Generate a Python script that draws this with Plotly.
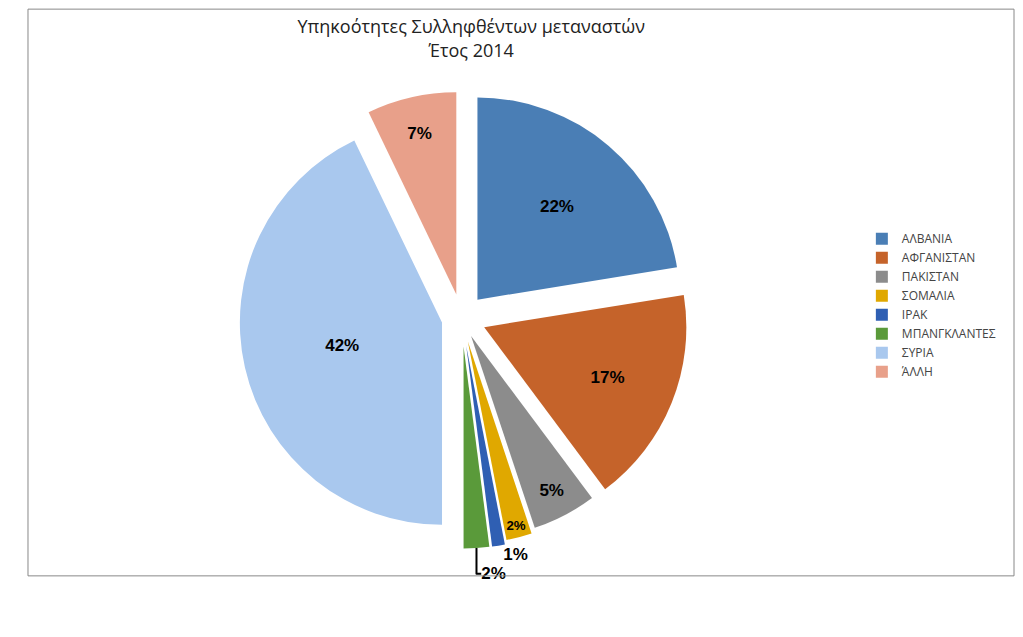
import plotly.graph_objects as go

labels = ["ΑΛΒΑΝΙΑ", "ΑΦΓΑΝΙΣΤΑΝ", "ΠΑΚΙΣΤΑΝ", "ΣΟΜΑΛΙΑ", "ΙΡΑΚ", "ΜΠΑΝΓΚΛΑΝΤΕΣ", "ΣΥΡΙΑ", "ΆΛΛΗ"]
values = [22, 17, 5, 2, 1, 2, 42, 7]
colors = ["#4A7EB5", "#C5632A", "#8C8C8C", "#E0A800", "#2F5FB3", "#5A9A3A", "#A9C8EE", "#E8A08A"]
pulls = [0.12, 0.12, 0.1, 0.12, 0.14, 0.14, 0.1, 0.12]

fig = go.Figure(go.Pie(
    labels=labels,
    values=values,
    sort=False,
    direction="clockwise",
    rotation=0,
    pull=pulls,
    marker=dict(colors=colors, line=dict(color="white", width=0)),
    texttemplate="<b>%{value}%</b>",
    textposition=["inside", "inside", "inside", "inside", "outside", "outside", "inside", "inside"],
    insidetextorientation="horizontal",
    textfont=dict(size=17, color="black", family="Liberation Sans"),
    domain=dict(x=[0.12, 0.76], y=[0.05, 0.86]),
    hoverinfo="label+percent",
))

fig.update_layout(
    autosize=True,
    paper_bgcolor="white",
    margin=dict(l=0, r=0, t=0, b=0),
    title=dict(text="Υπηκοότητες Συλληφθέντων μεταναστών<br>Έτος 2014",
               x=0.46, y=0.96, xanchor="center", yanchor="top",
               font=dict(size=18, color="#222", family="Open Sans")),
    legend=dict(x=0.845, y=0.62, xanchor="left", yanchor="top",
                font=dict(size=12, color="#444", family="Open Sans"),
                tracegroupgap=0, itemwidth=30),
    shapes=[dict(type="rect", xref="paper", yref="paper", x0=0.001, y0=0.002, x1=0.999, y1=0.998,
                 line=dict(color="#888", width=1))],
)

fig.write_html("out.html", default_width="100%", default_height="100vh")
